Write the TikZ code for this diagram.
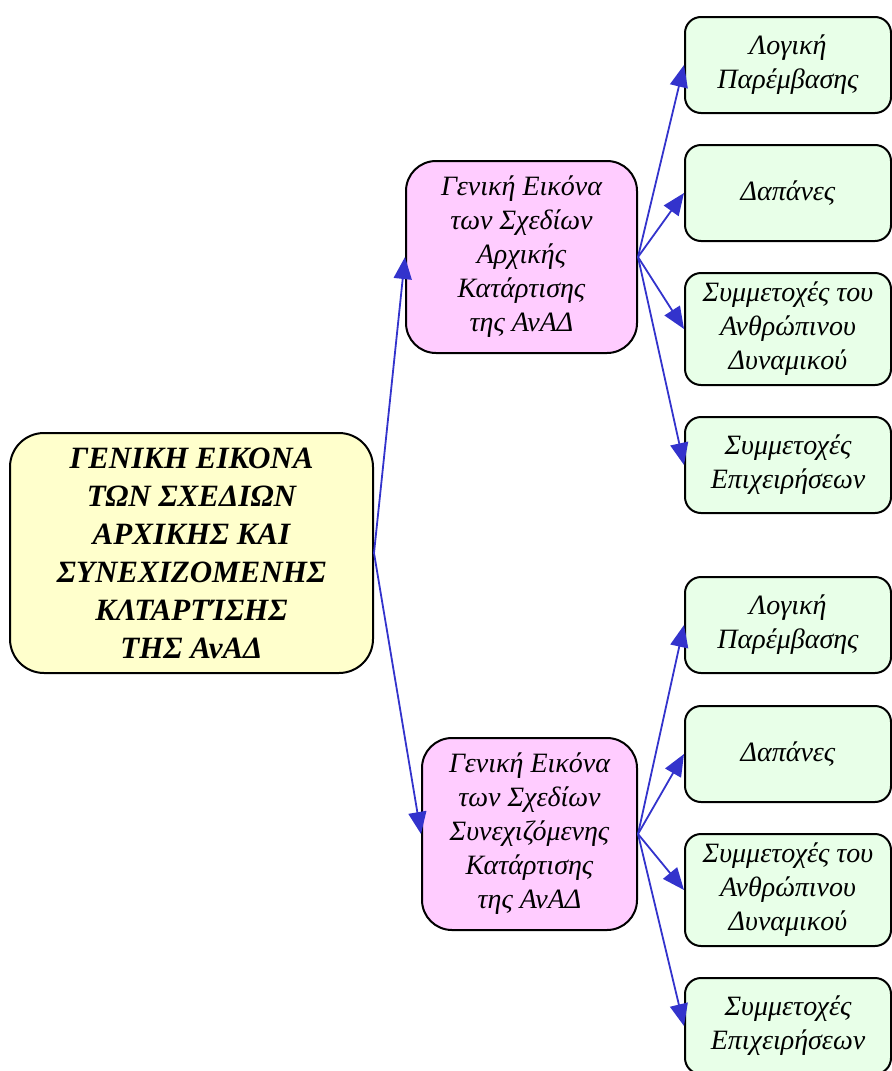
\documentclass[tikz,border=0pt]{standalone}
\usepackage{fontspec}
\setmainfont{Liberation Serif}
\usepackage{tikz}
\usetikzlibrary{arrows.meta,positioning}
\definecolor{rootyellow}{RGB}{255,255,204}
\definecolor{planpink}{RGB}{255,204,255}
\definecolor{leafgreen}{RGB}{232,255,232}
\definecolor{arrowblue}{RGB}{51,51,204}

\tikzset{
  box/.style={draw=black, line width=1pt, align=center, inner sep=0pt,
    font=\fontsize{14}{17}\selectfont\itshape},
  rootbox/.style={box, fill=rootyellow, minimum width=181.5pt, minimum height=120pt,
    rounded corners=17pt, font=\fontsize{15.5}{19}\selectfont\bfseries\itshape},
  planbox/.style={box, fill=planpink, minimum height=96pt, rounded corners=15pt},
  leafbox/.style={box, fill=leafgreen, minimum width=103pt, minimum height=48pt,
    rounded corners=8pt},
  link/.style={arrowblue, line width=0.9pt, -{Triangle[length=11pt,width=9pt]}}
}

\begin{document}
\begin{tikzpicture}[x=0.5pt, y=-0.5pt]
    \useasboundingbox (0,0) rectangle (891,1071);

    % Root
    \node[rootbox] (root) at (191.5,553)
        {ΓΕΝΙΚΗ ΕΙΚΟΝΑ\\ΤΩΝ ΣΧΕΔΙΩΝ\\ΑΡΧΙΚΗΣ ΚΑΙ\\ΣΥΝΕΧΙΖΟΜΕΝΗΣ\\ΚΛΤΑΡΤΊΣΗΣ\\ΤΗΣ ΑνΑΔ};

    % Initial training branch
    \node[planbox, minimum width=115.5pt] (initial) at (521.5,257)
        {Γενική Εικόνα\\των Σχεδίων\\Αρχικής\\Κατάρτισης\\της ΑνΑΔ};
    \node[leafbox] (ilogic) at (788,65) {Λογική\\Παρέμβασης};
    \node[leafbox] (icost) at (788,193) {Δαπάνες};
    \node[leafbox, minimum height=56pt] (ihuman) at (788,329) {Συμμετοχές του\\Ανθρώπινου\\Δυναμικού};
    \node[leafbox] (ifirm) at (788,465) {Συμμετοχές\\Επιχειρήσεων};

    % Continuing training branch
    \node[planbox, minimum width=107.5pt] (continuing) at (529.5,834)
        {Γενική Εικόνα\\των Σχεδίων\\Συνεχιζόμενης\\Κατάρτισης\\της ΑνΑΔ};
    \node[leafbox] (clogic) at (788,625) {Λογική\\Παρέμβασης};
    \node[leafbox] (ccost) at (788,754) {Δαπάνες};
    \node[leafbox, minimum height=56pt] (chuman) at (788,890) {Συμμετοχές του\\Ανθρώπινου\\Δυναμικού};
    \node[leafbox] (cfirm) at (788,1026) {Συμμετοχές\\Επιχειρήσεων};

    % Connectors
    \draw[link] (root.east) -- (initial.west);
    \draw[link] (root.east) -- (continuing.west);
    \foreach \leaf in {ilogic,icost,ihuman,ifirm}
        \draw[link] (initial.east) -- (\leaf.west);
    \foreach \leaf in {clogic,ccost,chuman,cfirm}
        \draw[link] (continuing.east) -- (\leaf.west);
\end{tikzpicture}
\end{document}
